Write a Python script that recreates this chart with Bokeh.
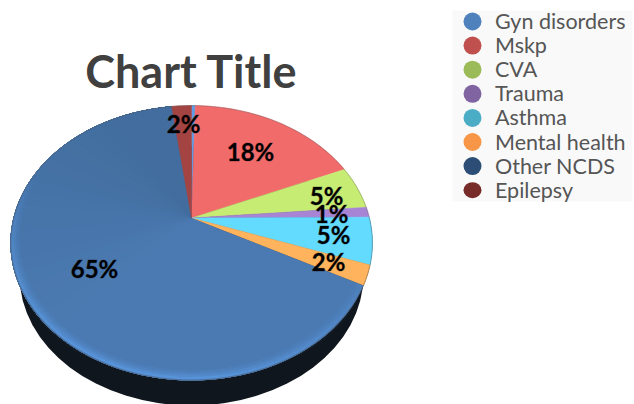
import math
from bokeh.plotting import figure
from bokeh.embed import file_html
from bokeh.resources import INLINE
from bokeh.core.properties import value

categories = ["Gyn disorders", "Mskp", "CVA", "Trauma", "Asthma", "Mental health", "Other NCDS", "Epilepsy"]
values = [0.4, 18.2, 5.1, 1.2, 5.5, 2.3, 65.2, 2.1]
labels = ["", "18%", "5%", "1%", "5%", "2%", "65%", "2%"]
slice_colors = ["#5f9be6", "#f26b6b", "#c6ec74", "#a884d4", "#62dbff", "#ffb35c", "#4775ab", "#a34442"]
legend_colors = ["#4f81bd", "#c0504d", "#9bbb59", "#8064a2", "#4bacc6", "#f79646", "#2c4d75", "#772c2a"]
label_x = [None, 250, 326, 331, 333, 328, 94, 183]
label_y = [None, 151, 195, 213, 234, 261, 268, 123]

W, H = 634, 404
APEX_X, APEX_Y, R, S, K = 191, 217.5, 178, 132.9, 0.1818
OTHER_TOP = (66, 109, 158)
OTHER_LOW = (75, 122, 178)


def project(frac, r=1.0):
    a = frac * 2 * math.pi
    u, v = r * math.sin(a), r * math.cos(a)
    w = 1 + K * v
    return APEX_X + R * u / w, APEX_Y - S * v / w


def rgb(c):
    return "#%02x%02x%02x" % tuple(int(round(x)) for x in c)


p = figure(width=W, height=H, x_range=(0, W), y_range=(H, 0),
           toolbar_location=None, output_backend="svg", min_border=0,
           outline_line_color=None, background_fill_color="white", border_fill_color="white")
p.xaxis.visible = False
p.yaxis.visible = False
p.grid.visible = False

# legend
LX, LY0, LDY = 472, 21, 24.1
p.quad(left=452, right=632, top=10, bottom=201, fill_color="#f9f9f9", line_color=None)
for i, (c, col) in enumerate(zip(categories, legend_colors)):
    y = LY0 + i * LDY
    p.ellipse(x=[LX], y=[y], width=18, height=16 if i == 7 else 18, fill_color=col, line_color=None)
    p.text(x=[LX + 22.5], y=[y - 0.5], text=[c], text_font=value("Lato"), text_font_size="21.5px",
           text_color="#555555", text_baseline="middle", text_align="left")

# side of the pie
p.ellipse(x=[191], y=[275], width=344, height=260, fill_color="#10161d", line_color=None)
sx, sy = [], []
for i in range(0, 201):
    x, y = project(0.25 + 0.5 * i / 200)
    sx.append(x); sy.append(y)
sx += [191 + 172, 191 - 172]; sy += [275, 275]
p.patch(sx, sy, fill_color="#10161d", line_color=None)
p.ellipse(x=[191], y=[262], width=350, height=236, fill_color="#1a2836", line_color=None, fill_alpha=0.3)

# slices
start = 0.0
total = sum(values)
other_range = None
for val, col, name in zip(values, slice_colors, categories):
    f0, f1 = start / total, (start + val) / total
    if name == "Other NCDS":
        other_range = (f0, f1)
        n = 40
        for j in range(n):
            # painted back to front: each piece runs on to the slice's end, so no seams show
            a0 = f0 + (f1 - f0) * j / n
            mid = a0 + (f1 - f0) / (2 * n)
            m = max(2, int((f1 - a0) * 200))
            pts = [project(a0 + (f1 - a0) * k / m) for k in range(m + 1)]
            t = min(1.0, max(0.0, (mid - 0.62) / 0.30))
            shade = rgb([OTHER_LOW[k] + (OTHER_TOP[k] - OTHER_LOW[k]) * t for k in range(3)])
            p.patch([APEX_X] + [q[0] for q in pts], [APEX_Y] + [q[1] for q in pts],
                    fill_color=shade, line_color=None)
    else:
        n = max(4, int(val * 4))
        pts = [project(f0 + (f1 - f0) * j / n) for j in range(n + 1)]
        xs = [APEX_X] + [q[0] for q in pts]
        ys = [APEX_Y] + [q[1] for q in pts]
        p.patch(xs, ys, fill_color=col, line_color=col, line_width=0.5)
    start += val

# soft bevel on the near edge of the large slice
f0, f1 = other_range
steps = 90
for r, width, strength in [(0.955, 2.5, 0.15), (0.967, 2.5, 0.3), (0.978, 2.5, 0.5), (0.989, 2.5, 0.75)]:
    xs, ys, alphas = [], [], []
    for j in range(steps):
        a0 = f0 + (f1 - f0) * j / steps
        a1 = f0 + (f1 - f0) * (j + 1) / steps
        q0, q1 = project(a0, r), project(a1, r)
        mid = (a0 + a1) * math.pi
        light = -0.3 * math.sin(mid) - 0.95 * math.cos(mid)
        xs.append([q0[0], q1[0]]); ys.append([q0[1], q1[1]])
        alphas.append(strength * max(0.0, min(1.0, light + 0.05)))
    p.multi_line(xs, ys, line_color="#5c9ce6", line_width=width, line_alpha=alphas)

# thin outer edge
pts = [project(i / 360, 0.999) for i in range(361)]
p.line([q[0] for q in pts], [q[1] for q in pts], line_color="#555555", line_width=1, line_alpha=0.35)

# data labels
for t, x, y in zip(labels, label_x, label_y):
    if t:
        p.text(x=[x], y=[y], text=[t], text_font=value("Lato"), text_font_size="24px", text_font_style="bold",
               text_color="black", text_outline_color="rgba(0,0,0,0.3)", text_align="center", text_baseline="middle")

# title
p.text(x=[191], y=[70], text=["Chart Title"], text_font=value("Lato"), text_font_size="45px", text_font_style="bold",
       text_color="#404040", text_align="center", text_baseline="middle")

open("out.html", "w").write(file_html(p, INLINE))
